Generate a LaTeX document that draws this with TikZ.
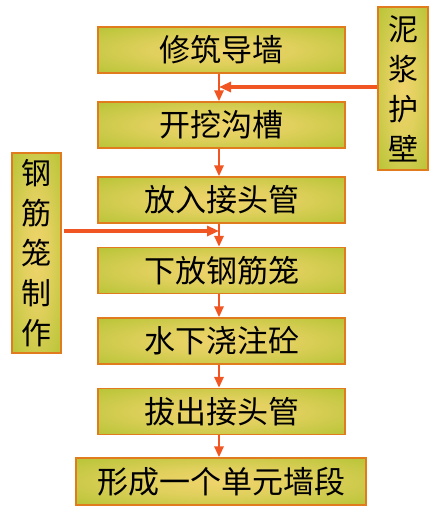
\documentclass[tikz,border=0pt]{standalone}
\usepackage{fontspec}
\setmainfont{Noto Sans CJK SC}
\usetikzlibrary{arrows.meta}
\definecolor{boxgreen}{HTML}{9CBD1C}
\definecolor{boxyellow}{HTML}{F0D46C}
\definecolor{boxborder}{HTML}{E07B1E}
\definecolor{arrowred}{HTML}{F05522}
\pgfdeclareradialshading{boxglow}{\pgfpoint{0bp}{0bp}}{color(0bp)=(boxyellow); color(15bp)=(boxyellow!80!boxgreen); color(50bp)=(boxgreen); color(60bp)=(boxgreen)}
\tikzset{
  stepbox/.style={draw=boxborder, line width=1.3pt, shading=boxglow, minimum width=247pt, minimum height=46pt, inner sep=0pt, font=\fontsize{31}{31}\selectfont},
  sidebox/.style={draw=boxborder, line width=1.3pt, shading=boxglow, minimum width=50pt, inner sep=0pt, align=center, font=\fontsize{30}{40}\selectfont},
  flow/.style={draw=arrowred, line width=2.8pt, -{Triangle[width=9pt,length=11pt]}},
  feed/.style={draw=arrowred, line width=3.2pt, -{Triangle[width=10pt,length=12pt]}}
}
\begin{document}
\begin{tikzpicture}[x=1pt,y=-1pt]
\useasboundingbox (0,0) rectangle (438,519);
\node[stepbox] (b1) at (221.5,50) {修筑导墙};
\node[stepbox] (b2) at (221.5,125) {开挖沟槽};
\node[stepbox] (b3) at (221.5,200) {放入接头管};
\node[stepbox] (b4) at (221.5,270.5) {下放钢筋笼};
\node[stepbox] (b5) at (221.5,341) {水下浇注砼};
\node[stepbox] (b6) at (221.5,411.5) {拔出接头管};
\node[stepbox, minimum width=290pt, minimum height=47pt] (b7) at (221,481.5) {形成一个单元墙段};
\node[sidebox, minimum height=163pt] (r) at (403,88.5) {泥\\浆\\护\\壁};
\node[sidebox, minimum width=49pt, minimum height=200pt] (l) at (36.5,253) {钢\\筋\\笼\\制\\作};
\coordinate (ax) at (219,0);
\foreach \a/\b in {b1/b2,b2/b3,b3/b4,b4/b5,b5/b6,b6/b7}{
  \draw[flow] (\a.south -| ax) -- (\b.north -| ax);
}
\coordinate (rt) at (219,87);
\coordinate (lt) at (219,231);
\draw[feed] (r.west |- rt) -- (rt);
\draw[feed] ([xshift=2pt]l.east |- lt) -- (lt);
\end{tikzpicture}
\end{document}
